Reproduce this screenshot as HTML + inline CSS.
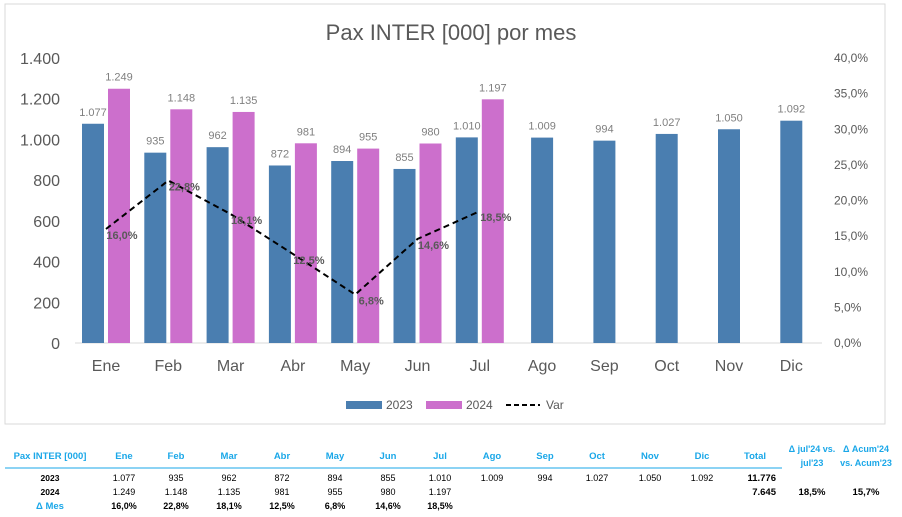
<!DOCTYPE html>
<html><head><meta charset="utf-8"><style>
body{margin:0;background:#fff;font-family:"Liberation Sans",sans-serif}
svg text{font-family:"Liberation Sans",sans-serif}
</style></head><body>
<svg id="c" width="902" height="512" viewBox="0 0 902 512" xmlns="http://www.w3.org/2000/svg">
<rect x="5" y="4" width="880" height="420" fill="#fff" stroke="#d9d9d9"/>
<text x="451" y="40" text-anchor="middle" font-size="22" fill="#595959">Pax INTER [000] por mes</text>
<g id="axes"></g><g id="bars"></g><g id="line"></g><g id="legend"></g><g id="table"></g>
</svg>
<script>
const months=["Ene","Feb","Mar","Abr","May","Jun","Jul","Ago","Sep","Oct","Nov","Dic"];
const v2023=[1077,935,962,872,894,855,1010,1009,994,1027,1050,1092];
const v2024=[1249,1148,1135,981,955,980,1197];
const varPct=[16.0,22.8,18.1,12.5,6.8,14.6,18.5];
const leftTicks=[0,200,400,600,800,1000,1200,1400];
const rightTicks=[0,5,10,15,20,25,30,35,40];
const totals=["11.776","7.645"];
const deltas=["18,5%","15,7%"];
const NS="http://www.w3.org/2000/svg";
function el(p,t,a,txt){const e=document.createElementNS(NS,t);for(const k in a)e.setAttribute(k,a[k]);if(txt!==undefined)e.textContent=txt;p.appendChild(e);return e;}
const y0=343,yTop=58;
const yL=v=>y0-(v/1400)*(y0-yTop);
const yR=p=>y0-(p/40)*(y0-yTop);
const xC=i=>106+i*62.3;
const fmt=v=>v>=1000?Math.floor(v/1000)+"."+String(v%1000).padStart(3,"0"):String(v);
const fp=p=>p.toFixed(1).replace(".",",")+"%";
const ax=document.getElementById("axes");
leftTicks.forEach(t=>{const e=el(ax,"text",{x:60,y:yL(t)+6,"text-anchor":"end","font-size":16,fill:"#595959"},fmt(t));

});
rightTicks.forEach(t=>{const e=el(ax,"text",{x:834,y:yR(t)+4,"font-size":12,fill:"#595959"},fp(t));

});
const bl=el(ax,"line",{x1:75,x2:822,y1:y0,y2:y0,stroke:"#d9d9d9"});


months.forEach((m,i)=>{const e=el(ax,"text",{x:xC(i),y:371,"text-anchor":"middle","font-size":16,fill:"#595959"},m);

});
const bg=document.getElementById("bars");
const bw=22;
v2023.forEach((v,i)=>{const x=i<v2024.length?xC(i)-bw-2:xC(i)-bw/2;
const r=el(bg,"rect",{x:x,y:yL(v),width:bw,height:y0-yL(v),fill:"#4a7eb0"});


const t=el(bg,"text",{x:x+bw/2,y:yL(v)-8,"text-anchor":"middle","font-size":11,fill:"#7f7f7f"},fmt(v));

});
v2024.forEach((v,i)=>{const x=xC(i)+2;
const r=el(bg,"rect",{x:x,y:yL(v),width:bw,height:y0-yL(v),fill:"#cc6fcc"});


const t=el(bg,"text",{x:x+bw/2,y:yL(v)-8,"text-anchor":"middle","font-size":11,fill:"#7f7f7f"},fmt(v));

});
const lg=document.getElementById("line");
const pl=el(lg,"polyline",{points:varPct.map((p,i)=>xC(i)+","+yR(p)).join(" "),fill:"none",stroke:"#000","stroke-width":2,"stroke-dasharray":"6,4"});


varPct.forEach((p,i)=>{const t=el(lg,"text",{x:xC(i)+16,y:yR(p)+10,"text-anchor":"middle","font-size":11,"font-weight":"bold",fill:"#595959"},fp(p));

});
const lgd=document.getElementById("legend");
[["2023","#4a7eb0",346,"rect"],["2024","#cc6fcc",426,"rect"],["Var","#000",506,"line"]].forEach(d=>{
const g=el(lgd,"g",{});


if(d[3]=="rect")el(g,"rect",{x:d[2],y:401,width:36,height:8,fill:d[1]});
else el(g,"line",{x1:d[2],x2:d[2]+34,y1:405,y2:405,stroke:"#000","stroke-width":2,"stroke-dasharray":"5,3"});
el(g,"text",{x:d[2]+40,y:409,"font-size":12,fill:"#595959"},d[0]);});
const tb=document.getElementById("table");
const colX=[124,176,229,282,335,388,440,492,545,597,650,702];
const blue="#1aa7e8";
function tt(x,y,s,o,name){const t=el(tb,"text",Object.assign({x:x,y:y,"font-size":9.5,"text-anchor":"middle",fill:"#000"},o||{}),s);

return t;}
tt(50,459,"Pax INTER [000]",{fill:blue,"font-weight":"bold"},"table-header");
months.forEach((m,i)=>tt(colX[i],459,m,{fill:blue,"font-weight":"bold"},"table-header"));
tt(755,459,"Total",{fill:blue,"font-weight":"bold"},"table-header");
tt(812,452,"Δ jul'24 vs.",{fill:blue,"font-weight":"bold","font-size":9},"table-header");
tt(812,466,"jul'23",{fill:blue,"font-weight":"bold","font-size":9},"table-header");
tt(866,452,"Δ Acum'24",{fill:blue,"font-weight":"bold","font-size":9},"table-header");
tt(866,466,"vs. Acum'23",{fill:blue,"font-weight":"bold","font-size":9},"table-header");
const hl=el(tb,"line",{x1:5,x2:782,y1:468,y2:468,stroke:blue,"stroke-width":1});


tt(50,481,"2023",{"font-weight":"bold","font-size":8.5},"row-label");
tt(50,495,"2024",{"font-weight":"bold","font-size":8.5},"row-label");
tt(50,509,"Δ Mes",{"font-weight":"bold",fill:blue},"row-label");
v2023.forEach((v,i)=>tt(colX[i],481,fmt(v),{"font-size":9},"cell-2023"));
v2024.forEach((v,i)=>tt(colX[i],495,fmt(v),{"font-size":9},"cell-2024"));
varPct.forEach((p,i)=>tt(colX[i],509,fp(p),{"font-weight":"bold","font-size":9},"cell-var"));
tt(776,481,totals[0],{"font-weight":"bold","text-anchor":"end"},"total-2023");
tt(776,495,totals[1],{"font-weight":"bold","text-anchor":"end"},"total-2024");
tt(812,495,deltas[0],{"font-weight":"bold"},"delta-jul");
tt(866,495,deltas[1],{"font-weight":"bold"},"delta-acum");
</script>
</body></html>
